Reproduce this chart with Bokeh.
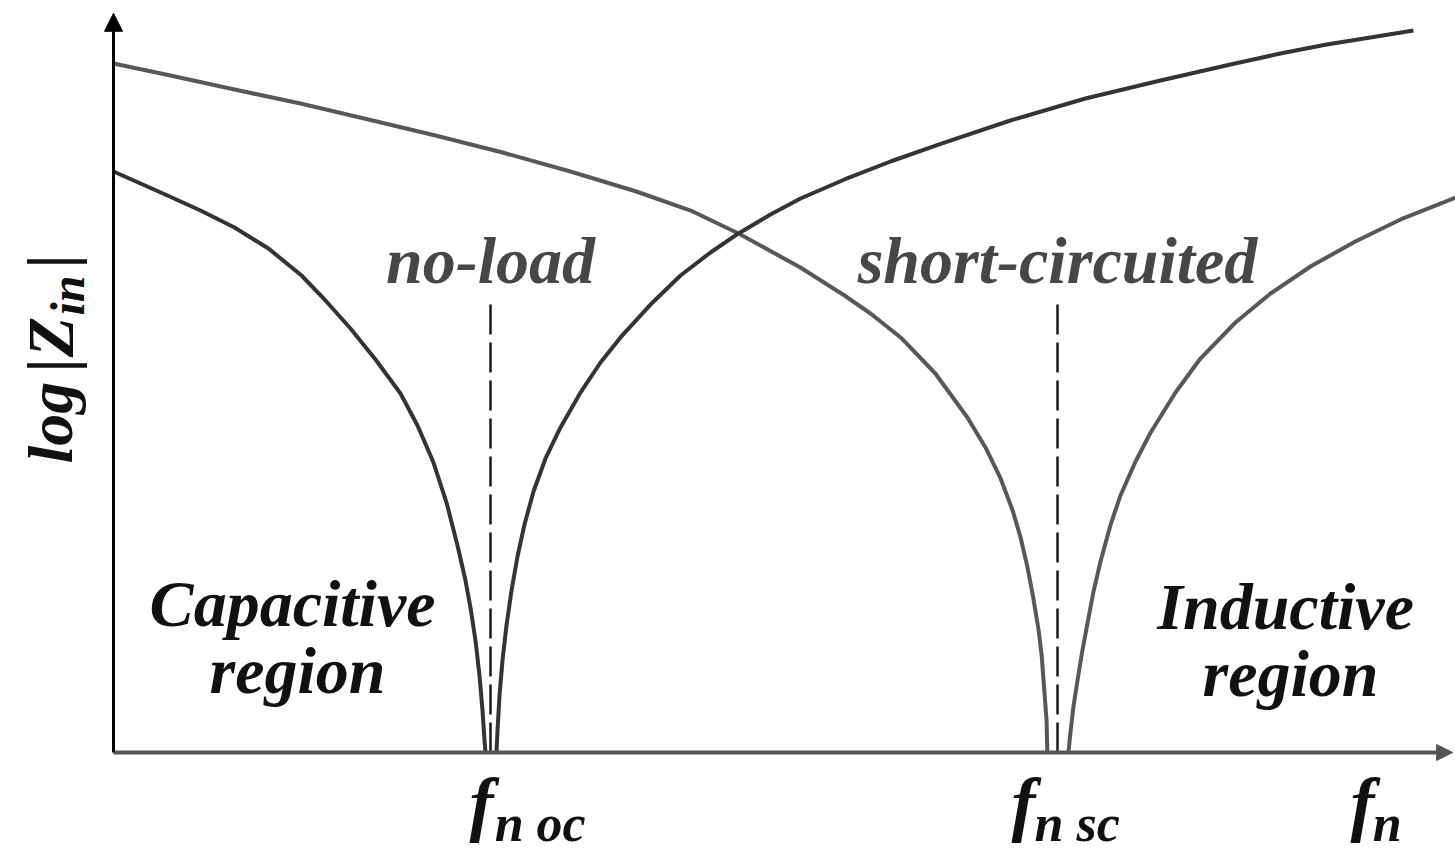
import math
from bokeh.plotting import figure
from bokeh.models import Range1d, Arrow, NormalHead
from bokeh.core.properties import value
from bokeh.embed import file_html
from bokeh.resources import INLINE

# Normalised frequency f_n (f_n oc = 1) and log|Z_in| in arbitrary decades.
F_OC = 1.0
F_SC = 2.504

# No-load input impedance: capacitive branch, then inductive branch above f_n oc
noload_low_f = [0, 0.0716, 0.1432, 0.2308, 0.321, 0.4111, 0.4987, 0.5623, 0.6286, 0.695,
                0.7613, 0.8064, 0.8488, 0.8833, 0.9125, 0.9337, 0.9469, 0.9602, 0.9708,
                0.9788, 0.9841, 0.9867]
noload_low_z = [7.726, 7.566, 7.407, 7.207, 6.981, 6.702, 6.343, 6.011, 5.638, 5.226,
                4.774, 4.348, 3.856, 3.324, 2.753, 2.287, 1.928, 1.489, 1.024,
                0.559, 0.16, 0.0]
noload_high_f = [1.0159, 1.0186, 1.0239, 1.0318, 1.0424, 1.0557, 1.0716, 1.0902, 1.1141,
                 1.1459, 1.1857, 1.2387, 1.2918, 1.3448, 1.4244, 1.504, 1.5836, 1.6578,
                 1.7427, 1.8223, 1.939, 2.061, 2.196, 2.379, 2.578, 2.777, 2.963, 3.095,
                 3.218, 3.334, 3.448]
noload_high_z = [0.0, 0.293, 0.758, 1.223, 1.689, 2.154, 2.606, 3.032, 3.471,
                 3.91, 4.322, 4.787, 5.186, 5.519, 5.957, 6.343, 6.649, 6.902,
                 7.154, 7.367, 7.62, 7.859, 8.098, 8.404, 8.697, 8.936, 9.149, 9.295,
                 9.415, 9.508, 9.601]

# Short-circuited input impedance: capacitive branch, then inductive branch above f_n sc
short_low_f = [0, 0.151, 0.321, 0.496, 0.676, 0.854, 1.032, 1.212, 1.387, 1.531, 1.658,
               1.822, 1.939, 2.008, 2.088, 2.18, 2.265, 2.313, 2.353, 2.385, 2.406,
               2.424, 2.44, 2.454, 2.462, 2.469, 2.475, 2.477]
short_low_z = [9.162, 9.003, 8.816, 8.63, 8.418, 8.205, 7.979, 7.726, 7.46, 7.207, 6.902,
               6.449, 6.077, 5.838, 5.519, 5.04, 4.455, 4.056, 3.644, 3.218, 2.859,
               2.473, 2.048, 1.622, 1.29, 0.824, 0.426, 0.0]
short_high_f = [2.533, 2.538, 2.546, 2.557, 2.57, 2.584, 2.599, 2.618, 2.645, 2.671,
                2.711, 2.751, 2.817, 2.883, 2.976, 3.069, 3.175, 3.294, 3.414, 3.56]
short_high_z = [0.0, 0.253, 0.598, 0.957, 1.356, 1.729, 2.128, 2.54, 3.032, 3.418,
                3.87, 4.255, 4.787, 5.239, 5.718, 6.104, 6.463, 6.795, 7.088, 7.38]

# Resonance markers
marker_f = [F_OC, F_SC]
marker_top = [6.01, 6.05]
marker_labels = ["no-load", "short-circuited"]

region_labels = ["Capacitive", "region", "Inductive", "region"]
region_x = [0.475, 0.488, 3.109, 3.122]
region_y = [1.982, 1.091, 1.942, 1.051]

freq_symbol_x = [0.976, 2.414, 3.313]
freq_sub_x = [1.011, 2.443, 3.34]
freq_subscripts = ["n oc", "n sc", "n"]

FONT = value("Liberation Serif")
STYLE = "bold italic"

p = figure(width=1455, height=852,
           x_range=Range1d(-113 / 377, 1342 / 377),
           y_range=Range1d(-100 / 75.2, 752 / 75.2),
           x_axis_location=None, y_axis_location=None,
           toolbar_location=None, output_backend="svg",
           min_border=0, min_border_left=0, min_border_right=0,
           min_border_top=0, min_border_bottom=0)
p.grid.visible = False
p.outline_line_color = None
p.background_fill_color = "white"
p.border_fill_color = "white"

# impedance curves
p.line(short_low_f, short_low_z, line_color="#585858", line_width=4, line_join="round")
p.line(short_high_f, short_high_z, line_color="#585858", line_width=4, line_join="round")
p.line(noload_low_f, noload_low_z, line_color="#343434", line_width=4, line_join="round")
p.line(noload_high_f, noload_high_z, line_color="#343434", line_width=4, line_join="round")

# dashed resonance markers
p.segment(x0=marker_f, y0=[0, 0], x1=marker_f, y1=marker_top,
          line_color="#1a1a1a", line_width=2.5, line_dash="30 8")

# axes with arrow heads
p.add_layout(Arrow(end=NormalHead(size=16, fill_color="#555555", line_color="#555555"),
                   x_start=0, y_start=0, x_end=3.552, y_end=0,
                   line_color="#555555", line_width=4))
p.add_layout(Arrow(end=NormalHead(size=18, fill_color="black", line_color="black"),
                   x_start=0, y_start=0, x_end=0, y_end=9.83,
                   line_color="black", line_width=3))

# curve labels centred above the resonance markers
p.text(x=marker_f, y=[6.543, 6.543], text=marker_labels, text_font=FONT,
       text_font_style=STYLE, text_font_size="66px", text_color="#474747",
       text_align="center", text_baseline="alphabetic")

# region labels
p.text(x=region_x, y=region_y, text=region_labels, text_font=FONT,
       text_font_style=STYLE, text_font_size="66px", text_color="#111111",
       text_align="center", text_baseline="alphabetic")

# frequency labels on the horizontal axis
p.text(x=freq_symbol_x, y=[-0.687] * 3, text=["f"] * 3,
       text_font=FONT, text_font_style=STYLE, text_font_size="72px",
       text_color="#111111", text_align="center", text_baseline="alphabetic")
p.text(x=freq_sub_x, y=[-0.94] * 3, text=freq_subscripts,
       text_font=FONT, text_font_style=STYLE, text_font_size="52px",
       text_color="#111111", text_align="left", text_baseline="alphabetic")

# vertical axis title: log |Z_in|
vert = math.pi / 2
title_x = -0.166
p.text(x=[title_x], y=[3.843], text=["log"], text_font=FONT, text_font_style=STYLE,
       text_font_size="64px", text_color="#111111", text_align="left",
       text_baseline="alphabetic", angle=vert)
p.text(x=[title_x, title_x], y=[5.146, 6.529], text=["|", "|"], text_font=FONT,
       text_font_style="bold", text_font_size="66px", text_color="#111111",
       text_align="center", text_baseline="alphabetic", angle=vert)
p.text(x=[title_x], y=[5.525], text=["Z"], text_font=FONT, text_font_style=STYLE,
       text_font_size="66px", text_color="#111111", text_align="center",
       text_baseline="alphabetic", angle=vert)
p.text(x=[title_x + 0.045], y=[6.077], text=["in"], text_font=FONT, text_font_style=STYLE,
       text_font_size="48px", text_color="#111111", text_align="center",
       text_baseline="alphabetic", angle=vert)

open("out.html", "w").write(file_html(p, INLINE))
